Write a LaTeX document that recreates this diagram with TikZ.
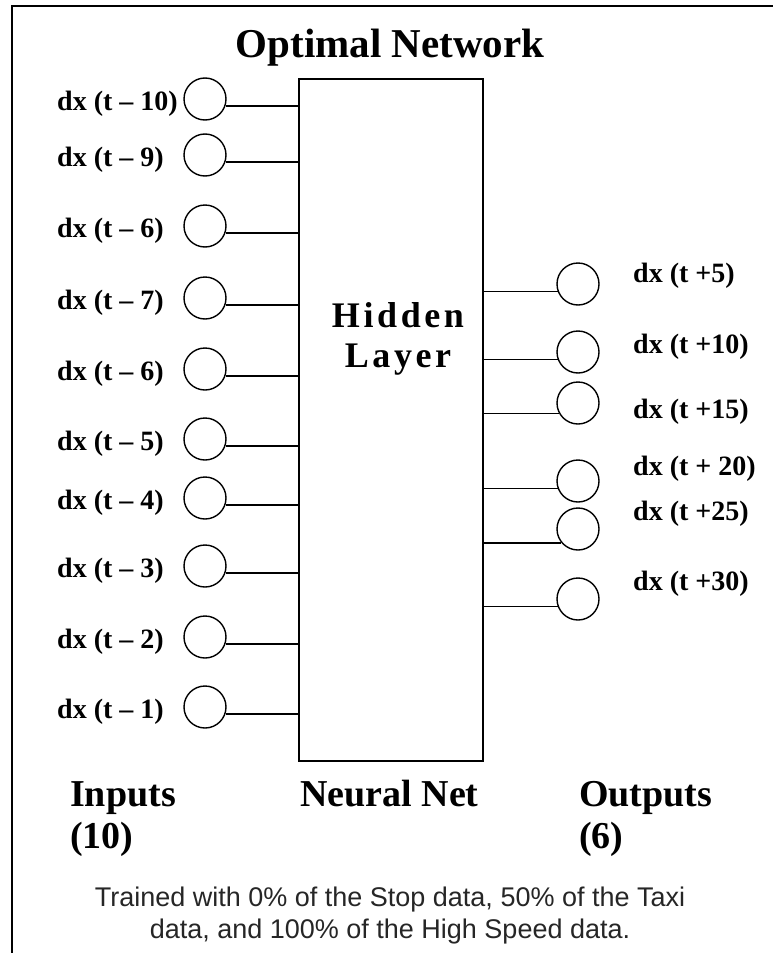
\documentclass[tikz,border=0pt]{standalone}
\usepackage{fontspec}
\setmainfont{Liberation Serif}
\newfontfamily\arialf{Liberation Sans}
\begin{document}
\begin{tikzpicture}[x=1pt,y=-1pt,
  neuron/.style={circle,draw,line width=1.4pt,minimum size=42pt,inner sep=0pt},
  lab/.style={font=\fontsize{28}{30}\selectfont\bfseries,inner sep=0pt,anchor=west},
  wire/.style={line width=1.3pt},
  big/.style={font=\fontsize{38}{40}\selectfont\bfseries,inner sep=0pt,anchor=base west},
  captxt/.style={font=\arialf\fontsize{27}{33}\selectfont,text=black!85,inner sep=0pt,anchor=base}]
\useasboundingbox (0,0) rectangle (773,953);
\coordinate (tr) at (773,6);
\coordinate (tl) at (12,6);
\coordinate (bl) at (12,953);
\draw[line width=1.6pt] (tr) -- (tl) -- (bl);
\node[font=\fontsize{41}{43}\selectfont\bfseries,anchor=base,inner sep=0pt] (title) at (390,57) {Optimal Network};
\node[draw,line width=1.8pt,minimum width=184pt,minimum height=682pt,inner sep=0pt,anchor=north west] (hl) at (298,78) {};
\node[font=\fontsize{36}{40}\selectfont\bfseries\addfontfeature{LetterSpace=10},align=center,inner sep=0pt] (hid) at (398,339) {Hidden\\Layer};
\foreach \n/\y/\t in {1/99/10, 2/155/9, 3/226/6, 4/298/7, 5/369/6, 6/439/5, 7/498/4, 8/566/3, 9/637/2, 10/707/1} {
  \node[neuron] (i\n) at (205,\y) {};
  \node[lab] (li\n) at (57,\y+5) {dx (t -- \t)};
  \draw[wire] (i\n.-19) -- (i\n.-19 -| hl.west);
}
\foreach \n/\y/\a/\ly/\t in {1/284/200/276/+5, 2/352/200/347/+10, 3/403/208/412/+15, 4/481/200/469/+ 20, 5/529/220/514/+25, 6/599/200/584/+30} {
  \node[neuron] (o\n) at (578,\y) {};
  \node[lab] (lo\n) at (633,\ly) {dx (t \t)};
  \draw[wire] (o\n.\a -| hl.east) -- (o\n.\a);
}
\node[big] (inp) at (70,806) {Inputs};
\node[big] (inn) at (70,848) {(10)};
\node[big] (nn) at (300,806) {Neural Net};
\node[big] (outp) at (579,806) {Outputs};
\node[big] (outn) at (579,848) {(6)};
\node[captxt] (cap1) at (390,906) {Trained with 0\% of the Stop data, 50\% of the Taxi};
\node[captxt] (cap2) at (390,938) {data, and 100\% of the High Speed data.};
\end{tikzpicture}
\end{document}
